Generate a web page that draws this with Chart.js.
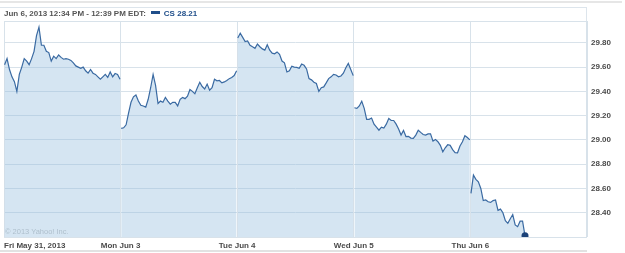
<!DOCTYPE html>
<html><head><meta charset="utf-8">
<script src="https://cdn.jsdelivr.net/npm/chart.js@4/dist/chart.umd.min.js"></script>
<style>
html,body{margin:0;padding:0;background:#fff;}
#wrap{position:relative;width:625px;height:253px;overflow:hidden;background:#fff;}
#c{position:absolute;left:0;top:0;}
.topline{position:absolute;left:0;top:1px;width:622px;height:2px;background:#e6e6e6;}
.hbox{position:absolute;left:0;top:7px;width:587px;height:14px;border-top:1px solid #dde5ec;border-right:1px solid #dde5ec;box-sizing:border-box;}
.hdr{position:absolute;left:4px;top:8px;font:bold 8px "Liberation Sans",Arial,sans-serif;color:#555;white-space:nowrap;line-height:12px;}
.hdr .mk{display:inline-block;width:9px;height:3px;background:#1f4e8a;vertical-align:middle;margin:0 4px 0 5px;position:relative;top:-1px;}
.hdr .cs{color:#1f4e8a;}
.copy{position:absolute;left:5px;top:227px;font:7.5px "Liberation Sans",Arial,sans-serif;color:#aebfcc;white-space:nowrap;line-height:10px;}
.botline{position:absolute;left:0;top:250px;width:587px;height:2px;background:#e2e2e2;}
</style>
</head><body>
<div id="wrap">
<canvas id="c" width="625" height="253"></canvas>
<div class="topline"></div>
<div class="hbox"></div>
<div class="hdr">Jun 6, 2013 12:34 PM - 12:39 PM EDT:<span class="mk"></span><span class="cs">CS 28.21</span></div>
<div class="copy">© 2013 Yahoo! Inc.</div>
<div class="botline"></div>
</div>
<script>
// Price samples per trading day (evenly spaced through the session)
const SAMPLES_PER_DAY = 48;
const fri = [29.62,29.67,29.58,29.52,29.48,29.40,29.54,29.60,29.67,29.65,29.62,29.67,29.73,29.86,29.93,29.78,29.78,29.73,29.72,29.65,29.69,29.67,29.70,29.68,29.665,29.67,29.665,29.655,29.635,29.61,29.60,29.59,29.60,29.57,29.55,29.58,29.55,29.54,29.52,29.50,29.52,29.54,29.515,29.56,29.52,29.547,29.54,29.50];
const mon = [29.095,29.10,29.125,29.22,29.31,29.355,29.37,29.32,29.285,29.28,29.27,29.335,29.43,29.54,29.45,29.30,29.32,29.31,29.35,29.32,29.295,29.31,29.31,29.28,29.335,29.35,29.34,29.36,29.415,29.40,29.38,29.43,29.475,29.44,29.42,29.46,29.41,29.43,29.50,29.487,29.49,29.47,29.478,29.49,29.505,29.515,29.53,29.57];
const tue = [29.84,29.88,29.845,29.81,29.815,29.78,29.767,29.755,29.79,29.768,29.75,29.74,29.785,29.74,29.715,29.71,29.725,29.705,29.65,29.635,29.56,29.57,29.607,29.60,29.598,29.59,29.625,29.615,29.585,29.505,29.495,29.475,29.465,29.40,29.43,29.437,29.47,29.505,29.52,29.54,29.535,29.52,29.527,29.55,29.595,29.63,29.58,29.53];
const wed = [29.265,29.26,29.28,29.318,29.26,29.17,29.17,29.18,29.13,29.105,29.08,29.105,29.098,29.13,29.177,29.16,29.16,29.13,29.09,29.04,29.078,29.028,29.03,29.015,29.012,29.04,29.08,29.062,29.045,29.04,29.05,29.05,28.99,29.004,28.985,28.955,28.902,28.935,28.96,28.955,28.92,28.895,28.894,28.95,28.985,29.035,29.02,29.00];
const thu = [28.56,28.71,28.675,28.655,28.60,28.50,28.505,28.49,28.485,28.50,28.505,28.42,28.43,28.40,28.335,28.313,28.35,28.385,28.30,28.285,28.33,28.33,28.21];
const days = [fri, mon, tue, wed, thu];
const xLabels = ['Fri May 31, 2013','Mon Jun 3','Tue Jun 4','Wed Jun 5','Thu Jun 6',''];
const yTicks = [28.2,28.4,28.6,28.8,29.0,29.2,29.4,29.6,29.8];
const yMin = 28.2, yMax = 29.98;

const points = [];
days.forEach((arr, d) => {
  arr.forEach((v, i) => points.push({x: d + 0.005 + 0.99 * i / (SAMPLES_PER_DAY - 1), y: v}));
  if (d < days.length - 1) points.push({x: d + 1, y: null});
});
const lastIdx = points.length - 1;

const frame = {
  id: 'frame',
  beforeDatasetsDraw(chart) {
    const {ctx, chartArea: a} = chart;
    ctx.save();
    ctx.strokeStyle = '#d8e2ea';
    ctx.lineWidth = 1;
    ctx.strokeRect(a.left + 0.5, a.top + 0.5, a.right - a.left - 1, a.bottom - a.top);
    ctx.restore();
  }
};

new Chart(document.getElementById('c'), {
  type: 'line',
  data: {
    datasets: [{
      data: points,
      borderColor: '#3a6aa2',
      borderWidth: 1.2,
      backgroundColor: 'rgba(150,190,222,0.4)',
      fill: 'start',
      tension: 0,
      spanGaps: false,
      pointRadius: ctx => ctx.dataIndex === lastIdx ? 3.5 : 0,
      pointBackgroundColor: '#1b4278',
      pointBorderWidth: 0,
      pointHoverRadius: 0
    }]
  },
  options: {
    responsive: false,
    animation: false,
    events: [],
    layout: {padding: {top: 21, left: 2, right: 0, bottom: 0}},
    plugins: {legend: {display: false}, tooltip: {enabled: false}, title: {display: false}},
    scales: {
      x: {
        type: 'linear',
        min: 0, max: 5,
        afterBuildTicks: s => { s.ticks = xLabels.map((_, i) => ({value: i})); },
        afterFit: s => { s.height = 16; },
        grid: {color: '#d8e2ea', drawTicks: false, lineWidth: 1},
        border: {display: false},
        ticks: {
          autoSkip: false, maxRotation: 0, align: 'inner', padding: 4,
          color: '#4a4a4a',
          font: {family: '"Liberation Sans", Arial, sans-serif', size: 8, weight: 'bold'},
          callback: v => xLabels[Math.round(v)]
        }
      },
      y: {
        type: 'linear',
        position: 'right',
        min: yMin, max: yMax,
        afterBuildTicks: s => { s.ticks = yTicks.map(v => ({value: v})); },
        afterFit: s => { s.width = 38; },
        grid: {color: '#d8e2ea', drawTicks: false, lineWidth: 1},
        border: {display: false},
        ticks: {
          padding: 4,
          color: '#4a4a4a',
          font: {family: '"Liberation Sans", Arial, sans-serif', size: 8, weight: 'bold'},
          callback: v => (Math.abs(v - yMin) < 1e-6 ? '' : Number(v).toFixed(2))
        }
      }
    }
  },
  plugins: [frame]
});
</script>
</body></html>
